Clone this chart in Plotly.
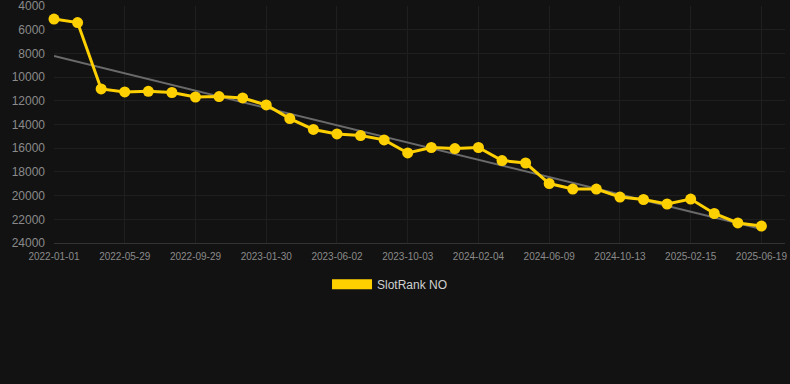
import plotly.graph_objects as go

dates = [
    "2022-01-01", "2022-02-19", "2022-04-09", "2022-05-29", "2022-07-09",
    "2022-08-19", "2022-09-29", "2022-11-09", "2022-12-20", "2023-01-30",
    "2023-03-12", "2023-04-22", "2023-06-02", "2023-07-13", "2023-08-23",
    "2023-10-03", "2023-11-13", "2023-12-24", "2024-02-04", "2024-03-16",
    "2024-04-28", "2024-06-09", "2024-07-21", "2024-09-01", "2024-10-13",
    "2024-11-23", "2025-01-04", "2025-02-15", "2025-03-28", "2025-05-09",
    "2025-06-19",
]
rank = [
    5100, 5400, 11000, 11250, 11200, 11300, 11680, 11640, 11760, 12350,
    13500, 14420, 14800, 14930, 15300, 16400, 15940, 16030, 15940, 17040,
    17250, 18980, 19450, 19450, 20120, 20330, 20710, 20290, 21510, 22310,
    22570,
]
trend_x = [dates[0], dates[-1]]
trend_y = [8220, 22820]
tick_dates = dates[::3]
y_ticks = [4000, 6000, 8000, 10000, 12000, 14000, 16000, 18000, 20000, 22000, 24000]
y_tick_text = [str(v) for v in y_ticks]
series_name = "SlotRank NO"

gold = "#FFD000"
bg = "#121212"

fig = go.Figure()
fig.add_trace(go.Scatter(
    x=trend_x, y=trend_y, mode="lines",
    line=dict(color="#6a6a6a", width=2),
    showlegend=False, hoverinfo="skip", cliponaxis=False,
))
fig.add_trace(go.Scatter(
    x=dates, y=rank, mode="lines+markers",
    line=dict(color=gold, width=3),
    marker=dict(color=gold, size=11),
    showlegend=False, cliponaxis=False,
))
fig.add_trace(go.Scatter(
    x=[None], y=[None], mode="lines", name=series_name,
    line=dict(color=gold, width=12),
))

fig.update_layout(
    width=790, height=384,
    paper_bgcolor=bg, plot_bgcolor=bg,
    margin=dict(l=54, r=5, t=6, b=141),
    font=dict(family="Arial, Liberation Sans, sans-serif", color="#8a8a8a"),
    showlegend=True,
    legend=dict(
        orientation="h", xref="container", yref="container",
        x=0.4937, xanchor="center", y=0.26, yanchor="middle",
        font=dict(size=12, color="#d0d0d0"),
        bgcolor="rgba(0,0,0,0)", itemwidth=40,
    ),
    xaxis=dict(
        type="category", categoryorder="array", categoryarray=dates,
        range=[0, 31], tickmode="array", tickvals=tick_dates, ticktext=tick_dates,
        showgrid=True, gridcolor="#1f1f1f", gridwidth=1,
        showline=True, linecolor="#333333", linewidth=1,
        tickfont=dict(size=10, color="#8a8a8a"), ticklabelstandoff=4,
        zeroline=False, automargin=False,
    ),
    yaxis=dict(
        range=[24000, 4000], tickmode="array", tickvals=y_ticks, ticktext=y_tick_text,
        showgrid=True, gridcolor="#1f1f1f", gridwidth=1,
        showline=False, zeroline=False, ticklabeloverflow="allow",
        tickfont=dict(size=12, color="#8a8a8a"), ticklabelstandoff=8,
        automargin=False,
    ),
)

fig.write_html(
    "out.html",
    config={"displayModeBar": False},
    post_script="document.body.style.margin='0';document.body.style.background='#121212';",
)
